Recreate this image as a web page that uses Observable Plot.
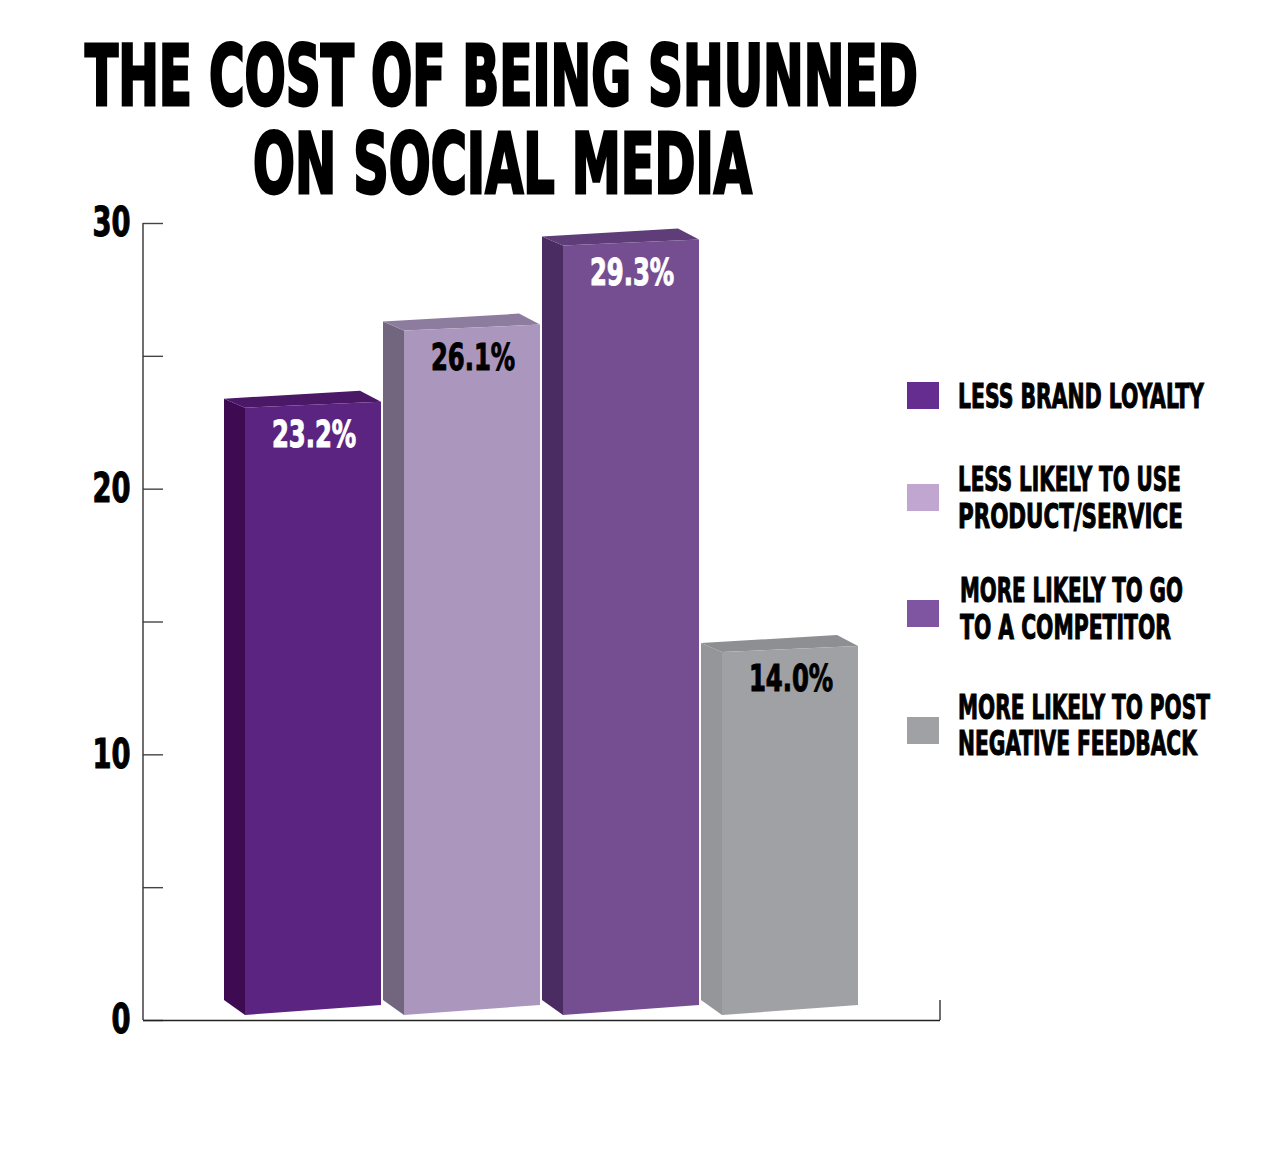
<!DOCTYPE html>
<html><head><meta charset="utf-8">
<script src="https://cdn.jsdelivr.net/npm/d3@7"></script>
<script src="https://cdn.jsdelivr.net/npm/@observablehq/plot@0.6"></script>
<style>
body{margin:0;background:#fff;}
#wrap{position:relative;width:1274px;height:1150px;overflow:hidden;font-family:"DejaVu Sans Condensed","DejaVu Sans",sans-serif;}
#chart{position:absolute;left:0;top:200px;}
#overlay{position:absolute;left:0;top:0;pointer-events:none;}
</style></head><body>
<div id="wrap"><div id="chart"></div><svg id="overlay" width="1274" height="1150"></svg></div>
<script>
// ---- data ----
const titleLines = ["THE COST OF BEING SHUNNED", "ON SOCIAL MEDIA"];
const categories = ["LESS BRAND LOYALTY", "LESS LIKELY TO USE PRODUCT/SERVICE", "MORE LIKELY TO GO TO A COMPETITOR", "MORE LIKELY TO POST NEGATIVE FEEDBACK"];
const legendLines = [["LESS BRAND LOYALTY"], ["LESS LIKELY TO USE", "PRODUCT/SERVICE"], ["MORE LIKELY TO GO", "TO A COMPETITOR"], ["MORE LIKELY TO POST", "NEGATIVE FEEDBACK"]];
const values = [23.2, 26.1, 29.3, 14.0];
const yTicksMajor = [0, 10, 20, 30];
const yTicksMinor = [5, 15, 25];
const yDomain = [0, 30];

// ---- styles / layout ----
const frontColors = ["#5b2480", "#ab97bd", "#754e92", "#a0a1a4"];
const sideColors  = ["#3e0a52", "#72667f", "#4b2c62", "#959699"];
const topColors   = ["#4b1767", "#8e7c9f", "#5e3d78", "#8e8f92"];
const swatchColors = ["#662d91", "#c0a6d0", "#7f54a0", "#a0a1a4"];
const labelColors = ["#ffffff", "#000000", "#ffffff", "#000000"];
const FONT = '"DejaVu Sans Condensed","DejaVu Sans",sans-serif';
const swatchTop = [382, 484, 600, 717];
const legendBase = [[408], [491, 528], [602, 639], [719, 755]];
const legendX = [958, 958, 960, 958];
const legendW = [[246], [223, 225], [223, 211], [252, 239]];

const rows = categories.map((c, i) => ({cat: c, value: values[i], idx: i}));

function render3d(index, scales, vals, dims) {
  const g = d3.create("svg:g");
  const x = scales.x, y = scales.y, bw = x.bandwidth();
  const side = 21, y0 = y(0);
  const poly = (pts, fill) => g.append("polygon").attr("points", pts.map(p => p.join(",")).join(" ")).attr("fill", fill);
  for (const i of index) {
    const d = rows[i];
    const bx = x(d.cat), sx = bx + side, rx = bx + bw, yv = y(d.value);
    poly([[bx, yv - 5], [sx, yv + 4], [sx, y0 - 5], [bx, y0 - 20]], sideColors[d.idx]);
    poly([[bx, yv - 5], [rx - side, yv - 13], [rx, yv - 2], [sx, yv + 4]], topColors[d.idx]);
    poly([[sx, yv + 4], [rx, yv - 2], [rx, y0 - 15], [sx, y0 - 5]], frontColors[d.idx]);
  }
  return g.node();
}

function axisLines(index, scales, vals, dims) {
  const g = d3.create("svg:g").attr("stroke", "#333").attr("stroke-width", 1.4);
  const xl = dims.marginLeft, xr = dims.width - dims.marginRight;
  g.append("line").attr("x1", xl).attr("x2", xl).attr("y1", scales.y(yDomain[1])).attr("y2", scales.y(0));
  g.append("line").attr("x1", xr).attr("x2", xr).attr("y1", scales.y(0) - 20).attr("y2", scales.y(0));
  return g.node();
}

const plotW = 960, mL = 143, mR = 20;
const chart = Plot.plot({
  width: plotW, height: 850,
  marginTop: 23, marginBottom: 30, marginLeft: mL, marginRight: mR,
  style: {fontFamily: FONT, background: "transparent", overflow: "visible"},
  x: {domain: categories, paddingInner: 0.012, paddingOuter: 0.5, axis: null},
  y: {domain: yDomain, axis: null},
  marks: [
    Plot.ruleY([...yTicksMajor, ...yTicksMinor], {insetRight: plotW - mL - mR - 20, stroke: "#444", strokeWidth: 1.4}),
    Plot.ruleY([0], {stroke: "#222", strokeWidth: 1.6}),
    Plot.ruleY([0], {render: axisLines}),
    Plot.barY(rows, {x: "cat", y: "value", render: render3d}),
    Plot.text(rows, {x: "cat", y: "value", text: d => d.value.toFixed(1) + "%", dx: 11, dy: 31,
      fill: d => labelColors[d.idx], fontSize: 37, fontWeight: "bold"}),
    Plot.text(yTicksMajor, {y: d => d, frameAnchor: "left", dx: -13, textAnchor: "end", text: d => String(d),
      fontSize: 40, fontWeight: "bold", fill: "#000"})
  ]
});
document.getElementById("chart").appendChild(chart);

// horizontal condensing via transform (keeps anchor position)
function squeeze(sel, fn) {
  sel.each(function(d, k) {
    const L = this.getComputedTextLength();
    const f = fn(this, k, L);
    let t = this.getAttribute("transform");
    if (!t) {
      const x = +this.getAttribute("x") || 0, y = +this.getAttribute("y") || 0;
      this.setAttribute("x", 0); this.setAttribute("y", 0);
      t = `translate(${x},${y})`;
    }
    this.setAttribute("transform", `${t} scale(${f},1)`);
  });
}
const cs = d3.select(chart);
const ctexts = cs.selectAll("text");
ctexts.each(function() {
  const fill = this.getAttribute("fill") || (this.parentNode && this.parentNode.getAttribute("fill")) || "#000";
  this.style.stroke = fill; this.style.strokeWidth = "1";
});
squeeze(ctexts, (el) => (/%/.test(el.textContent) ? 0.73 : 0.76));

// ---- title & legend ----
const ov = d3.select("#overlay").style("font-family", FONT);
const titleSpec = [{x: 85, y: 105, w: 833}, {x: 253, y: 193, w: 499}];
const tsel = ov.selectAll("text.title").data(titleLines).join("text").attr("class", "title")
  .attr("x", (d, i) => titleSpec[i].x).attr("y", (d, i) => titleSpec[i].y)
  .attr("font-size", 83).attr("font-weight", "bold").attr("fill", "#000")
  .attr("stroke", "#000").attr("stroke-width", 3).text(d => d);
squeeze(tsel, (el, k, L) => titleSpec[k].w / L);

const lg = ov.append("g");
const flat = [];
legendLines.forEach((lines, i) => {
  lg.append("rect").attr("x", 907).attr("y", swatchTop[i]).attr("width", 32).attr("height", 27).attr("fill", swatchColors[i]);
  lines.forEach((ln, j) => flat.push({t: ln, x: legendX[i], y: legendBase[i][j], w: legendW[i][j]}));
});
const lsel = lg.selectAll("text").data(flat).join("text")
  .attr("x", d => d.x).attr("y", d => d.y).attr("font-size", 33).attr("font-weight", "bold")
  .attr("fill", "#000").attr("stroke", "#000").attr("stroke-width", 1).text(d => d.t);
squeeze(lsel, (el, k, L) => flat[k].w / L);
</script>
</body></html>
